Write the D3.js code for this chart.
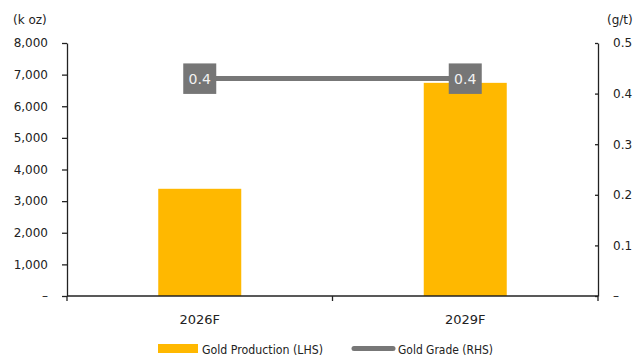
<!DOCTYPE html>
<html><head><meta charset="utf-8">
<script src="https://cdn.jsdelivr.net/npm/d3@7"></script>
<style>body{margin:0;background:#fff}svg{display:block}text{font-family:"DejaVu Sans",sans-serif;fill:#222}</style>
</head><body><svg width="642" height="358"></svg>
<script>
const categories = ["2026F", "2029F"];
const production = [3390, 6740];
const grade = [0.43, 0.43];
const gradeLabels = ["0.4", "0.4"];
const leftTicks = [0, 1000, 2000, 3000, 4000, 5000, 6000, 7000, 8000];
const rightTicks = [0, 0.1, 0.2, 0.3, 0.4, 0.5];
const legendLabels = ["Gold Production (LHS)", "Gold Grade (RHS)"];

const svg = d3.select("svg");
const L = 67, R = 598, T = 43, B = 296;
const x = d3.scaleBand().domain(categories).range([L, R]);
const yL = d3.scaleLinear().domain([0, 8000]).range([B, T]);
const yR = d3.scaleLinear().domain([0, 0.5]).range([B, T]);
const fmtL = v => v === 0 ? "–" : d3.format(",")(v);
const fmtR = v => v === 0 ? "–" : d3.format(".1f")(v);

// bars
const bw = 83;
svg.selectAll("rect.bar").data(categories).join("rect")
  .attr("x", (d) => x(d) + x.bandwidth()/2 - bw/2)
  .attr("y", (d,i) => yL(production[i]))
  .attr("width", bw)
  .attr("height", (d,i) => B - yL(production[i]))
  .attr("fill", "#FFB800");

// axes
const axL = d3.axisLeft(yL).tickValues(leftTicks).tickFormat(fmtL).tickSize(5).tickSizeOuter(0);
const gL = svg.append("g").attr("transform", `translate(${L},0)`).call(axL);
const axR = d3.axisLeft(yR).tickValues(rightTicks).tickFormat(fmtR).tickSize(3).tickSizeOuter(0);
const gR = svg.append("g").attr("transform", `translate(${R},0)`).call(axR);
gR.selectAll("text").attr("x", 15).attr("text-anchor", "start");
[gL, gR].forEach(g => {
  g.selectAll("path,line").attr("stroke", "#222").attr("stroke-width", 1.3);
  g.selectAll("text").style("font-size", "12px").attr("fill", "#222");
});
gL.selectAll("text").attr("x", -19);

// x axis
svg.append("line").attr("x1", L).attr("x2", R).attr("y1", B).attr("y2", B).attr("stroke", "#222").attr("stroke-width", 1.3);
const xTicks = [L, (L+R)/2, R];
svg.selectAll("line.xt").data(xTicks).join("line")
  .attr("x1", d => d).attr("x2", d => d).attr("y1", B).attr("y2", B+5)
  .attr("stroke", "#222").attr("stroke-width", 1.3);
svg.selectAll("text.cat").data(categories).join("text")
  .attr("x", d => x(d) + x.bandwidth()/2).attr("y", 324)
  .attr("text-anchor", "middle").style("font-size", "13px").text(d => d);

// line
const line = d3.line().x((d,i) => x(categories[i]) + x.bandwidth()/2).y(d => yR(d));
svg.append("path").datum(grade).attr("d", line).attr("fill", "none").attr("stroke", "#777").attr("stroke-width", 5);
grade.forEach((g, i) => {
  const cx = x(categories[i]) + x.bandwidth()/2, cy = yR(g);
  svg.append("rect").attr("x", cx - 16.5).attr("y", cy - 15).attr("width", 33).attr("height", 30.5).attr("fill", "#767676");
  svg.append("text").attr("x", cx).attr("y", cy + 5.5).attr("text-anchor", "middle")
    .style("font-size", "14px").style("fill", "#f2f2f2").text(gradeLabels[i]);
});

// units
svg.append("text").attr("x", 13).attr("y", 24).style("font-size", "12px").text("(k oz)");
svg.append("text").attr("x", 607).attr("y", 24).style("font-size", "12px").text("(g/t)");

// legend
svg.append("rect").attr("x", 158).attr("y", 344).attr("width", 40).attr("height", 9).attr("fill", "#FFB800");
svg.append("text").attr("x", 202).attr("y", 354).style("font-size", "12.5px")
  .attr("textLength", 121).attr("lengthAdjust", "spacingAndGlyphs").text(legendLabels[0]);
svg.append("line").attr("x1", 354).attr("x2", 393).attr("y1", 348.5).attr("y2", 348.5).attr("stroke", "#777").attr("stroke-width", 5).attr("stroke-linecap", "round");
svg.append("text").attr("x", 398).attr("y", 354).style("font-size", "12.5px")
  .attr("textLength", 95).attr("lengthAdjust", "spacingAndGlyphs").text(legendLabels[1]);
</script></body></html>
